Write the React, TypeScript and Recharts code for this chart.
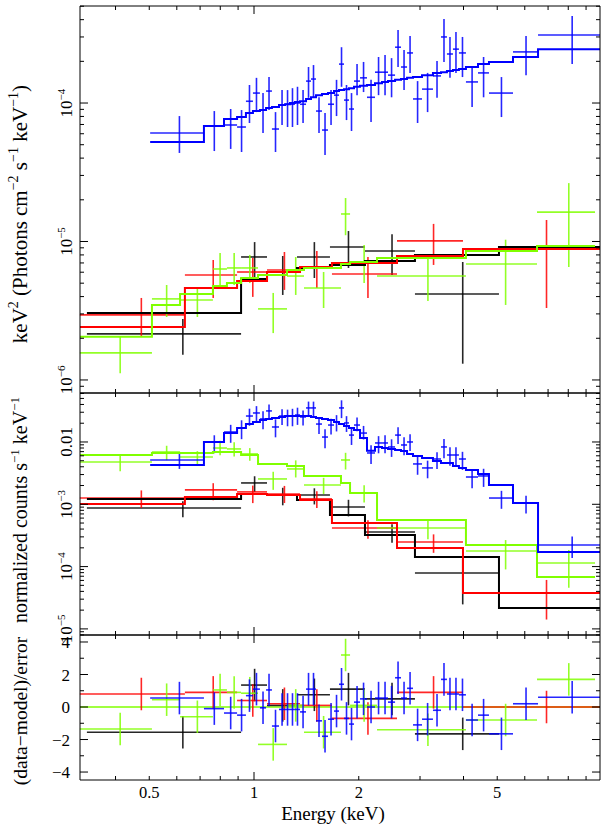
import React from "react";
import { ComposedChart, Line, Scatter, XAxis, YAxis, ErrorBar, ReferenceLine } from "recharts";

// bin edges (keV) of each data group
const BLUE_EDGES = [
  0.503, 0.718, 0.82, 0.894, 0.948, 0.993, 1.04, 1.083, 1.126, 1.18, 1.228, 1.269, 1.311, 1.356, 1.411,
  1.458, 1.507, 1.568, 1.632, 1.698, 1.755, 1.814, 1.875, 1.938, 2.017, 2.112, 2.227, 2.333, 2.427, 2.543,
  2.645, 2.753, 2.864, 3.04, 3.268, 3.446, 3.585, 3.73, 3.881, 4.065, 4.403, 4.734, 5.55, 6.55, 9.87,
];
const BLACK_EDGES = [0.331, 0.918, 1.09, 1.329, 1.653, 2.084, 2.901, 5.058, 9.87];
const RED_EDGES = [0.316, 0.633, 0.894, 1.09, 1.356, 1.675, 2.576, 3.986, 9.87];
const GREEN_EDGES = [0.316, 0.509, 0.613, 0.762, 0.836, 0.918, 1.027, 1.244, 1.392, 1.778, 1.888, 2.257, 4.065, 6.506, 9.55];

// unfolded spectrum: keV^2 (photons cm^-2 s^-1 keV^-1)
const BLUE_EUF = [
  6.07e-5, 6.83e-5, 6.94e-5, 6.71e-5, 1.03e-4, 1.18e-4, 8.9e-5, 1.22e-4, 6.49e-5, 9.68e-5, 9.8e-5, 9.8e-5,
  1.0e-4, 9.8e-5, 1.44e-4, 1.49e-4, 8.75e-5, 6.38e-5, 9.8e-5, 1.14e-4, 1.91e-4, 1.05e-4, 9.05e-5, 1.44e-4,
  1.52e-4, 1.1e-4, 1.67e-4, 1.67e-4, 1.59e-4, 2.53e-4, 1.82e-4, 2.3e-4, 1.07e-4, 1.26e-4, 1.57e-4, 3.0e-4,
  2.26e-4, 2.45e-4, 2.3e-4, 1.42e-4, 1.65e-4, 1.18e-4, 2.34e-4, 3.1e-4,
];
const BLUE_EUF_LO = [
  4.36e-5, 4.5e-5, 4.66e-5, 4.43e-5, 7.17e-5, 8.6e-5, 6.07e-5, 8.9e-5, 4.43e-5, 6.94e-5, 6.71e-5, 6.71e-5,
  6.94e-5, 7.17e-5, 1.09e-4, 1.1e-4, 6.07e-5, 4.22e-5, 6.94e-5, 8.05e-5, 1.31e-4, 7.53e-5, 6.28e-5, 1.14e-4,
  1.2e-4, 7.29e-5, 1.14e-4, 1.14e-4, 1.1e-4, 1.82e-4, 1.24e-4, 1.65e-4, 7.17e-5, 8.6e-5, 1.09e-4, 1.98e-4,
  1.52e-4, 1.65e-4, 1.54e-4, 9.35e-5, 1.1e-4, 7.92e-5, 1.59e-4, 1.91e-4,
];
const BLUE_EUF_HI = [
  8.05e-5, 8.75e-5, 9.05e-5, 8.9e-5, 1.35e-4, 1.52e-4, 1.18e-4, 1.54e-4, 8.6e-5, 1.24e-4, 1.24e-4, 1.28e-4,
  1.31e-4, 1.24e-4, 1.82e-4, 1.88e-4, 1.1e-4, 8.47e-5, 1.24e-4, 1.47e-4, 2.53e-4, 1.35e-4, 1.18e-4, 1.91e-4,
  1.98e-4, 1.47e-4, 2.15e-4, 2.22e-4, 2.11e-4, 3.37e-4, 2.42e-4, 3.05e-4, 1.44e-4, 1.65e-4, 2.01e-4, 4.04e-4,
  3.0e-4, 3.26e-4, 3.0e-4, 1.82e-4, 2.15e-4, 1.54e-4, 3.05e-4, 4.25e-4,
];
const BLUE_EUF_MODEL = [
  5.23e-5, 6.83e-5, 7.67e-5, 7.92e-5, 8.47e-5, 8.75e-5, 8.9e-5, 9.2e-5, 9.35e-5, 9.68e-5, 9.8e-5, 1.0e-4,
  1.017e-4, 1.03e-4, 1.07e-4, 1.1e-4, 1.14e-4, 1.16e-4, 1.18e-4, 1.22e-4, 1.24e-4, 1.26e-4, 1.28e-4, 1.31e-4,
  1.33e-4, 1.35e-4, 1.39e-4, 1.42e-4, 1.44e-4, 1.47e-4, 1.49e-4, 1.52e-4, 1.54e-4, 1.59e-4, 1.65e-4, 1.67e-4,
  1.7e-4, 1.73e-4, 1.76e-4, 1.82e-4, 1.91e-4, 1.98e-4, 2.15e-4, 2.45e-4,
];
const BLACK_EUF = [2.15e-6, 7.73e-6, 6.02e-6, 7.73e-6, 9.13e-6, 8.54e-6, 4.18e-6];
const BLACK_EUF_LO = [1.52e-6, 5.54e-6, 4.11e-6, 5.45e-6, 6.44e-6, 5.73e-6, 1.31e-6];
const BLACK_EUF_HI = [2.76e-6, 9.9e-6, 7.86e-6, 9.9e-6, 1.19e-5, 1.13e-5, 7.11e-6];
const BLACK_EUF_MODEL = [3.05e-6, 5.36e-6, 6.02e-6, 6.44e-6, 6.77e-6, 7.23e-6, 8.0e-6, 9.13e-6];
const RED_EUF = [2.95e-6, 5.73e-6, 6.02e-6, 6.22e-6, 6.44e-6, 5.82e-6, 1.01e-5, 8.83e-6];
const RED_EUF_LO = [2.05e-6, 3.91e-6, 3.98e-6, 4.47e-6, 4.62e-6, 3.91e-6, 6.77e-6, 3.31e-6];
const RED_EUF_HI = [3.91e-6, 7.35e-6, 7.6e-6, 8.4e-6, 8.54e-6, 7.73e-6, 1.34e-5, 1.43e-5];
const RED_EUF_MODEL = [2.41e-6, 4.62e-6, 5.18e-6, 6.02e-6, 6.54e-6, 6.99e-6, 7.86e-6, 8.83e-6];
const GREEN_EUF = [1.57e-6, 3.85e-6, 3.78e-6, 6.33e-6, 6.44e-6, 6.44e-6, 3.26e-6, 5.63e-6, 4.62e-6, 1.58e-5, 7.11e-6, 5.63e-6, 6.88e-6, 1.63e-5];
const GREEN_EUF_LO = [1.12e-6, 2.85e-6, 2.85e-6, 4.85e-6, 4.85e-6, 5.01e-6, 2.18e-6, 4.11e-6, 3.31e-6, 1.11e-5, 5.01e-6, 3.72e-6, 3.48e-6, 6.54e-6];
const GREEN_EUF_HI = [2.05e-6, 4.85e-6, 4.69e-6, 8.26e-6, 8.26e-6, 8.0e-6, 4.25e-6, 7.73e-6, 6.02e-6, 2.06e-5, 9.44e-6, 7.6e-6, 1.03e-5, 2.64e-5];
const GREEN_EUF_MODEL = [2.05e-6, 3.48e-6, 4.18e-6, 4.77e-6, 5.01e-6, 5.45e-6, 5.73e-6, 6.22e-6, 6.44e-6, 6.88e-6, 7.11e-6, 7.6e-6, 8.54e-6, 9.29e-6];

// normalized counts s^-1 keV^-1
const BLUE_CTS = [
  0.00514, 0.01, 0.01445, 0.0168, 0.0261, 0.0292, 0.0234, 0.0315, 0.0174, 0.0261, 0.0261, 0.0261, 0.0271,
  0.0252, 0.0352, 0.0352, 0.0194, 0.012, 0.0187, 0.0209, 0.0352, 0.0202, 0.0129, 0.0187, 0.0139, 0.00666,
  0.00964, 0.00964, 0.00832, 0.0129, 0.00895, 0.01, 0.00444, 0.00383, 0.00533, 0.00832, 0.00618, 0.00618,
  0.00533, 0.00274, 0.00285, 0.00126, 0.00105, 0.000222,
];
const BLUE_CTS_MODEL = [
  0.00428, 0.01, 0.0139, 0.0168, 0.0194, 0.0209, 0.0225, 0.0234, 0.0243, 0.0252, 0.0261, 0.0261, 0.0261,
  0.0261, 0.0261, 0.0252, 0.0243, 0.0234, 0.0225, 0.0209, 0.0194, 0.0181, 0.0168, 0.0156, 0.0116, 0.0072,
  0.00832, 0.008, 0.00773, 0.00744, 0.00718, 0.00642, 0.00596, 0.00553, 0.00495, 0.0046, 0.0046, 0.00412,
  0.00383, 0.00356, 0.00306, 0.00204, 0.00105, 0.000172,
];
const BLACK_CTS = [8.73e-4, 2.2e-3, 1.41e-3, 1.41e-3, 9.06e-4, 3.6e-4, 7.89e-5];
const BLACK_CTS_MODEL = [1.22e-3, 1.46e-3, 1.41e-3, 1.17e-3, 6.74e-4, 3.22e-4, 1.43e-4, 2.17e-5];
const RED_CTS = [1.26e-3, 1.7e-3, 1.58e-3, 1.46e-3, 1.22e-3, 4.17e-4, 2.48e-4, 3.77e-5];
const RED_CTS_MODEL = [1.01e-3, 1.31e-3, 1.46e-3, 1.41e-3, 1.17e-3, 5.01e-4, 1.99e-4, 3.77e-5];
const GREEN_CTS = [4.77e-3, 6.9e-3, 5.74e-3, 8.0e-3, 7.73e-3, 6.42e-3, 2.55e-3, 3.69e-3, 2.04e-3, 5.14e-3, 1.52e-3, 4.17e-4, 1.78e-4, 1.14e-4];
const GREEN_CTS_MODEL = [6.18e-3, 6.66e-3, 6.66e-3, 6.9e-3, 6.9e-3, 6.18e-3, 4.44e-3, 4.12e-3, 2.85e-3, 2.2e-3, 1.52e-3, 5.6e-4, 2.22e-4, 6.81e-5];

// (data-model)/error
const BLUE_RES = [
  0.55, -0.1, -0.37, -0.5, 0.7, 1.1, -0.05, 1.05, -1.17, -0.15, -0.15, -0.15, -0.15, -0.3, 1.1, 1.1, -0.85,
  -1.8, -0.75, -0.25, 1.4, -0.7, -1.05, 0.3, 0.5, 0, 0.55, 0.55, 0.3, 1.8, 0.55, 1.15, -1.1, -0.75, -0.2, 1.7,
  0.8, 0.8, 0.75, -0.8, -0.5, -1.65, 0.2, 0.6,
];
const BLACK_RES = [-1.55, 1.35, 0.1, 0.75, 1.1, 0.5, -1.65];
const RED_RES = [0.8, 0.9, 0.4, 0.2, 0.1, -0.7, 0.9, 0.0];
const GREEN_RES = [-1.35, 0.45, -0.6, 1.05, 0.9, 0.85, -2.3, 0.1, -1.55, 3.2, 0.1, -1.4, -0.8, 1.7];

const X_TICKS = [0.4, 0.5, 0.6, 0.7, 0.8, 0.9, 1, 2, 3, 4, 5, 6, 7, 8, 9];
const X_LABELS: Record<string, string> = { "0.5": "0.5", "1": "1", "2": "2", "5": "5" };
const RES_TICKS = [-4, -3, -2, -1, 0, 1, 2, 3, 4];

const W = 603;
const H = 826;
const PLOT_L = 80;
const PLOT_R = 600;
const X_DOMAIN: [number, number] = [0.3162, 9.87];
const FONT = "Liberation Serif, Times New Roman, serif";
const BLACK = "#000000";
const RED = "#ff0000";
const GREEN = "#80ff00";
const BLUE = "#0000ff";

type PanelBox = { top: number; bottom: number; domain: [number, number] };
const TOP: PanelBox = { top: 6, bottom: 393, domain: [8.05e-7, 5.02e-4] };
const MID: PanelBox = { top: 393, bottom: 635, domain: [7.98e-6, 0.0611] };
const BOT: PanelBox = { top: 635, bottom: 780, domain: [-4.49, 4.43] };

type Parts = [string, boolean][];

function RichText({ parts, x, y, size, rotate = false, anchor = "middle" }: {
  parts: Parts; x: number; y: number; size: number; rotate?: boolean; anchor?: string;
}) {
  const shift = Math.round(size * 0.42);
  let prev = false;
  return (
    <text
      x={rotate ? 0 : x}
      y={rotate ? 0 : y}
      transform={rotate ? `translate(${x},${y}) rotate(-90)` : undefined}
      textAnchor={anchor as any}
      fontSize={size}
      fontFamily={FONT}
      fill="#000"
    >
      {parts.map(([t, sup], i) => {
        const dy = (sup ? -shift : 0) - (prev ? -shift : 0);
        prev = sup;
        return (
          <tspan key={i} dy={dy} fontSize={sup ? Math.round(size * 0.66) : size}>
            {t}
          </tspan>
        );
      })}
    </text>
  );
}

function logTicks([lo, hi]: [number, number]) {
  const out: number[] = [];
  for (let d = Math.floor(Math.log10(lo)); d <= Math.ceil(Math.log10(hi)); d++) {
    for (let m = 1; m <= 9; m++) {
      const v = m * Math.pow(10, d);
      if (v >= lo && v <= hi) out.push(v);
    }
  }
  return out;
}

// inward energy ticks on the bottom and top edge of a panel, labels only under the last panel
const makeXTick = (p: PanelBox, labels: boolean) => (props: any) => {
  const { x, payload } = props;
  const v = payload.value as number;
  const len = Math.abs(v - 1) < 1e-9 ? 8 : 4;
  const label = labels ? X_LABELS[String(v)] : undefined;
  return (
    <g>
      <line x1={x} x2={x} y1={p.bottom} y2={p.bottom - len} stroke="#000" />
      <line x1={x} x2={x} y1={p.top} y2={p.top + len} stroke="#000" />
      {label && (
        <text x={x} y={798} textAnchor="middle" fontSize={16.5} fontFamily={FONT} fill="#000">
          {label}
        </text>
      )}
    </g>
  );
};

const makeLogYTick = (label: (d: number) => Parts | null) => (props: any) => {
  const { y, payload } = props;
  const v = payload.value as number;
  const d = Math.round(Math.log10(v));
  const major = Math.abs(v / Math.pow(10, d) - 1) < 1e-6;
  const len = major ? 8 : 4;
  const parts = major ? label(d) : null;
  return (
    <g>
      <line x1={PLOT_L} x2={PLOT_L + len} y1={y} y2={y} stroke="#000" />
      <line x1={PLOT_R} x2={PLOT_R - len} y1={y} y2={y} stroke="#000" />
      {parts && <RichText parts={parts} x={72} y={y} size={17} rotate />}
    </g>
  );
};

const decadeLabel = (d: number): Parts => [["10", false], [`−${-d}`, true]];
const topYTick = makeLogYTick(decadeLabel);
const midYTick = makeLogYTick((d) => (d === -2 ? [["0.01", false]] : decadeLabel(d)));

const resYTick = (props: any) => {
  const { y, payload } = props;
  const v = payload.value as number;
  const major = v % 2 === 0;
  const len = major ? 8 : 4;
  return (
    <g>
      <line x1={PLOT_L} x2={PLOT_L + len} y1={y} y2={y} stroke="#000" />
      <line x1={PLOT_R} x2={PLOT_R - len} y1={y} y2={y} stroke="#000" />
      {major && (
        <text x={70} y={y + 6} textAnchor="end" fontSize={17} fontFamily={FONT} fill="#000">
          {v < 0 ? `−${-v}` : `${v}`}
        </text>
      )}
    </g>
  );
};

const makeCrosses = (edges: number[], vals: number[], lo: number[], hi: number[]) =>
  vals.map((v, i) => {
    const a = edges[i];
    const b = edges[i + 1];
    const c = (a + b) / 2;
    return { x: c, y: v, ex: [c - a, b - c], ey: [v - lo[i], hi[i] - v] };
  });

// same relative error as the unfolded points
const scaled = (vals: number[], ref: number[], bound: number[]) => vals.map((v, i) => (v * bound[i]) / ref[i]);

const makeSteps = (edges: number[], model: number[]) =>
  edges.slice(0, model.length + 1).map((e, i) => ({ x: e, y: model[Math.min(i, model.length - 1)] }));

const SETS = [
  { id: "black", color: BLACK, edges: BLACK_EDGES, euf: BLACK_EUF, lo: BLACK_EUF_LO, hi: BLACK_EUF_HI, eufModel: BLACK_EUF_MODEL, cts: BLACK_CTS, ctsModel: BLACK_CTS_MODEL, res: BLACK_RES },
  { id: "red", color: RED, edges: RED_EDGES, euf: RED_EUF, lo: RED_EUF_LO, hi: RED_EUF_HI, eufModel: RED_EUF_MODEL, cts: RED_CTS, ctsModel: RED_CTS_MODEL, res: RED_RES },
  { id: "green", color: GREEN, edges: GREEN_EDGES, euf: GREEN_EUF, lo: GREEN_EUF_LO, hi: GREEN_EUF_HI, eufModel: GREEN_EUF_MODEL, cts: GREEN_CTS, ctsModel: GREEN_CTS_MODEL, res: GREEN_RES },
  { id: "blue", color: BLUE, edges: BLUE_EDGES, euf: BLUE_EUF, lo: BLUE_EUF_LO, hi: BLUE_EUF_HI, eufModel: BLUE_EUF_MODEL, cts: BLUE_CTS, ctsModel: BLUE_CTS_MODEL, res: BLUE_RES },
];

const noShape = () => <g />;

const crossSeries = (key: string, pts: any[], color: string) => (
  <Scatter key={key} xAxisId="b" yAxisId="l" data={pts} dataKey="y" shape={noShape} fill={color} isAnimationActive={false}>
    <ErrorBar dataKey="ex" direction="x" width={0} stroke={color} strokeWidth={1.6} strokeOpacity={0.85} isAnimationActive={false} />
    <ErrorBar dataKey="ey" direction="y" width={0} stroke={color} strokeWidth={1.6} strokeOpacity={0.85} isAnimationActive={false} />
  </Scatter>
);

const stepSeries = (key: string, pts: any[], color: string) => (
  <Line key={key} xAxisId="b" yAxisId="l" data={pts} dataKey="y" type="stepAfter" stroke={color} strokeWidth={2} dot={false} activeDot={false} isAnimationActive={false} />
);

// x axes get a 1px height (a zero-height axis is not drawn), margins compensate
const frameAxes = (p: PanelBox, yScale: "log" | "linear", yTicks: number[], yTick: any, labels: boolean) => [
  <XAxis key="xb" xAxisId="b" dataKey="x" type="number" scale="log" domain={X_DOMAIN} allowDataOverflow ticks={X_TICKS} interval={0} tick={makeXTick(p, labels)} tickLine={false} tickSize={0} axisLine={{ stroke: "#000" }} height={1} />,
  <XAxis key="xt" xAxisId="t" orientation="top" type="number" domain={[0, 1]} ticks={[0, 1]} tick={() => <g />} tickLine={false} axisLine={{ stroke: "#000" }} height={1} />,
  <YAxis key="yl" yAxisId="l" dataKey="y" type="number" scale={yScale} domain={p.domain} allowDataOverflow ticks={yTicks} interval={0} tick={yTick} tickLine={false} axisLine={{ stroke: "#000" }} width={80} />,
  <YAxis key="yr" yAxisId="r" orientation="right" type="number" domain={[0, 1]} ticks={[0, 1]} tick={() => <g />} tickLine={false} axisLine={{ stroke: "#000" }} width={3} />,
];

const panelMargin = (p: PanelBox) => ({ top: p.top - 1, right: 0, bottom: H - p.bottom - 1, left: 0 });

const TITLE_TOP: Parts = [["keV", false], ["2", true], [" (Photons cm", false], ["−2", true], [" s", false], ["−1", true], [" keV", false], ["−1", true], [")", false]];
const TITLE_MID: Parts = [["normalized counts s", false], ["−1", true], [" keV", false], ["−1", true]];
const TITLE_BOT: Parts = [["(data−model)/error", false]];

const layer: React.CSSProperties = { position: "absolute", left: 0, top: 0 };

export default function App() {
  return (
    <div style={{ position: "relative", width: W, height: H, background: "#fff", fontFamily: FONT }}>
      <style>{"body{margin:0}"}</style>

      <div style={layer}>
        <ComposedChart width={W} height={H} margin={panelMargin(TOP)}>
          {frameAxes(TOP, "log", logTicks(TOP.domain), topYTick, false)}
          {SETS.map((s) => crossSeries(`euf-${s.id}`, makeCrosses(s.edges, s.euf, s.lo, s.hi), s.color))}
          {SETS.map((s) => stepSeries(`eufm-${s.id}`, makeSteps(s.edges, s.eufModel), s.color))}
        </ComposedChart>
      </div>

      <div style={layer}>
        <ComposedChart width={W} height={H} margin={panelMargin(MID)}>
          {frameAxes(MID, "log", logTicks(MID.domain), midYTick, false)}
          {SETS.map((s) =>
            crossSeries(`cts-${s.id}`, makeCrosses(s.edges, s.cts, scaled(s.cts, s.euf, s.lo), scaled(s.cts, s.euf, s.hi)), s.color)
          )}
          {SETS.map((s) => stepSeries(`ctsm-${s.id}`, makeSteps(s.edges, s.ctsModel), s.color))}
        </ComposedChart>
      </div>

      <div style={layer}>
        <ComposedChart width={W} height={H} margin={panelMargin(BOT)}>
          {frameAxes(BOT, "linear", RES_TICKS, resYTick, true)}
          <ReferenceLine xAxisId="b" yAxisId="l" y={0} stroke={GREEN} strokeWidth={1.5} />
          {SETS.map((s) =>
            crossSeries(`res-${s.id}`, makeCrosses(s.edges, s.res, s.res.map((r) => r - 1), s.res.map((r) => r + 1)), s.color)
          )}
        </ComposedChart>
      </div>

      <svg width={W} height={H} style={{ ...layer, pointerEvents: "none" }}>
        <RichText parts={TITLE_TOP} x={27} y={214} size={21} rotate />
        <RichText parts={TITLE_MID} x={27} y={510} size={20} rotate />
        <RichText parts={TITLE_BOT} x={27} y={711} size={19.5} rotate />
        <text x={333} y={820} textAnchor="middle" fontSize={19} fontFamily={FONT} fill="#000">
          Energy (keV)
        </text>
      </svg>
    </div>
  );
}
